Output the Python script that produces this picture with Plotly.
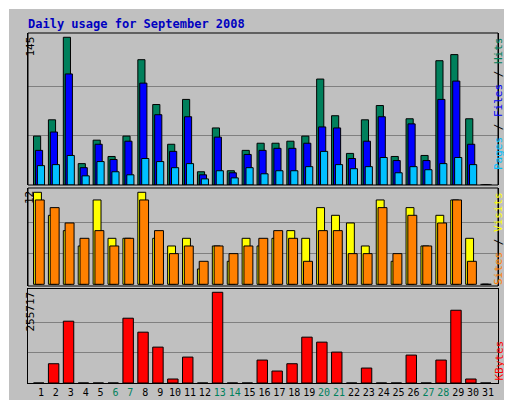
import plotly.graph_objects as go

days = list(range(1, 32))
weekends = [6, 7, 13, 14, 20, 21, 27, 28]

hits = [48, 64, 145, 21, 44, 28, 48, 123, 79, 40, 84, 13, 56, 14, 34, 41,
        41, 43, 48, 104, 68, 31, 64, 78, 28, 65, 29, 122, 128, 65, 0]
files = [34, 52, 109, 17, 40, 25, 43, 100, 69, 33, 67, 10, 47, 12, 30, 34,
         36, 36, 41, 57, 56, 26, 43, 67, 24, 60, 24, 84, 102, 40, 0]
pages = [19, 20, 29, 9, 23, 13, 10, 26, 23, 17, 21, 6, 14, 7, 17, 11,
         14, 14, 18, 33, 20, 16, 18, 27, 12, 18, 15, 21, 27, 20, 0]
visits = [12, 9, 7, 5, 11, 6, 6, 12, 6, 5, 6, 2, 5, 3, 6, 5,
          6, 7, 6, 10, 9, 8, 5, 11, 3, 10, 5, 9, 11, 6, 0]
sites = [11, 10, 8, 6, 7, 5, 6, 11, 7, 4, 5, 3, 5, 4, 5, 6,
         7, 6, 3, 7, 7, 4, 4, 10, 4, 9, 5, 8, 11, 3, 0]
kbytes = [0, 54330, 174220, 0, 0, 0, 182655, 143314, 101162, 11240, 73062, 0,
          255717, 0, 0, 64631, 33721, 54330, 129264, 115213, 87112, 0, 42151, 0,
          0, 78682, 0, 64631, 205135, 11240, 0]

MONO = "DejaVu Sans Mono"
C_HITS, C_FILES, C_PAGES = "#00805C", "#0000FF", "#00C0FF"
C_VISITS, C_SITES, C_KB = "#FFFF00", "#FF8000", "#FF0000"
line = dict(color="black", width=1)

fig = go.Figure()


def bar(y, color, offset, width, yaxis):
    fig.add_trace(go.Bar(x=days, y=y, marker=dict(color=color, line=line),
                         offset=offset, width=width, yaxis=yaxis, xaxis="x",
                         showlegend=False, hoverinfo="skip"))


bar(hits, C_HITS, -0.5, 0.48, "y")
bar(files, C_FILES, -0.37, 0.48, "y")
bar(pages, C_PAGES, -0.24, 0.48, "y")
bar(visits, C_VISITS, -0.5, 0.53, "y2")
bar(sites, C_SITES, -0.38, 0.6, "y2")
bar(kbytes, C_KB, -0.5, 0.7, "y3")

ticktext = [f"<span style='color:{C_HITS}'>{d}</span>" if d in weekends else str(d)
            for d in days]

yax = dict(showticklabels=False, ticks="", gridcolor="#808080", gridwidth=1,
           zeroline=False, showline=True, linecolor="black", mirror=True,
           automargin=False)

fig.update_layout(
    width=512, height=400, margin=dict(l=0, r=0, t=0, b=0, autoexpand=False),
    paper_bgcolor="#C0C0C0", plot_bgcolor="#C0C0C0", barmode="overlay",
    font=dict(family=MONO, size=11, color="black"),
    xaxis=dict(domain=[20 / 512, 490 / 512], range=[0.13, 31.67], anchor="y3",
               tickvals=days, ticktext=ticktext, ticks="", showgrid=False,
               tickangle=0, automargin=False,
               showline=True, linecolor="black", mirror=True,
               tickfont=dict(size=10, family=MONO)),
    yaxis=dict(domain=[1 - 177 / 400, 1 - 25 / 400], range=[0, 149.2],
               tickvals=[145 / 3, 290 / 3], **yax),
    yaxis2=dict(domain=[1 - 278 / 400, 1 - 180 / 400], range=[-0.22, 12.56],
                tickvals=[4, 8], **yax),
    yaxis3=dict(domain=[1 - 375 / 400, 1 - 281 / 400], range=[0, 265000],
                tickvals=[255717 / 3, 2 * 255717 / 3], **yax),
)

for y0, y1 in [(25, 177), (180, 278)]:
    fig.add_shape(type="rect", xref="paper", yref="paper", x0=20 / 512, x1=490 / 512,
                  y0=1 - y1 / 400, y1=1 - y0 / 400, line=dict(color="black", width=1))

fig.add_annotation(text="<b>Daily usage for September 2008</b>", x=18 / 512, y=1 - 16 / 400,
                   xref="paper", yref="paper", xanchor="left", yanchor="middle",
                   showarrow=False, font=dict(family=MONO, size=12, color="#0000C0"))

for txt, ypix in [("145", 27), ("12", 181), ("255717", 282)]:
    fig.add_annotation(text=txt, x=13 / 512, y=1 - ypix / 400, xref="paper", yref="paper",
                       textangle=-90, showarrow=False, yanchor="top",
                       font=dict(family=MONO, size=11, color="black"))

right_labels = [
    (f"<span style='color:{C_PAGES}'>Pages</span> / <span style='color:{C_FILES}'>Files</span>"
     f" / <span style='color:{C_HITS}'>Hits</span>", 27),
    (f"<span style='color:{C_SITES}'>Sites</span> / <span style='color:{C_VISITS}'>Visits</span>", 182),
    (f"<span style='color:{C_KB}'>KBytes</span>", 375),
]
for txt, ypix in right_labels:
    fig.add_annotation(text=txt, x=499 / 512, y=1 - ypix / 400, xref="paper", yref="paper",
                       textangle=-90, showarrow=False,
                       yanchor="bottom" if ypix > 300 else "top",
                       font=dict(family=MONO, size=11))

# frame: white top/left, dark right/bottom
fig.add_shape(type="line", xref="paper", yref="paper", x0=0, x1=1, y0=1, y1=1,
              line=dict(color="white", width=2))
fig.add_shape(type="line", xref="paper", yref="paper", x0=0, x1=0, y0=0, y1=1,
              line=dict(color="white", width=2))
fig.add_shape(type="rect", xref="paper", yref="paper", x0=505 / 512, x1=1, y0=0, y1=1,
              fillcolor="#808080", line=dict(width=0))
fig.add_shape(type="rect", xref="paper", yref="paper", x0=0, x1=1, y0=0, y1=4 / 400,
              fillcolor="#808080", line=dict(width=0))

fig.write_html("out.html")
